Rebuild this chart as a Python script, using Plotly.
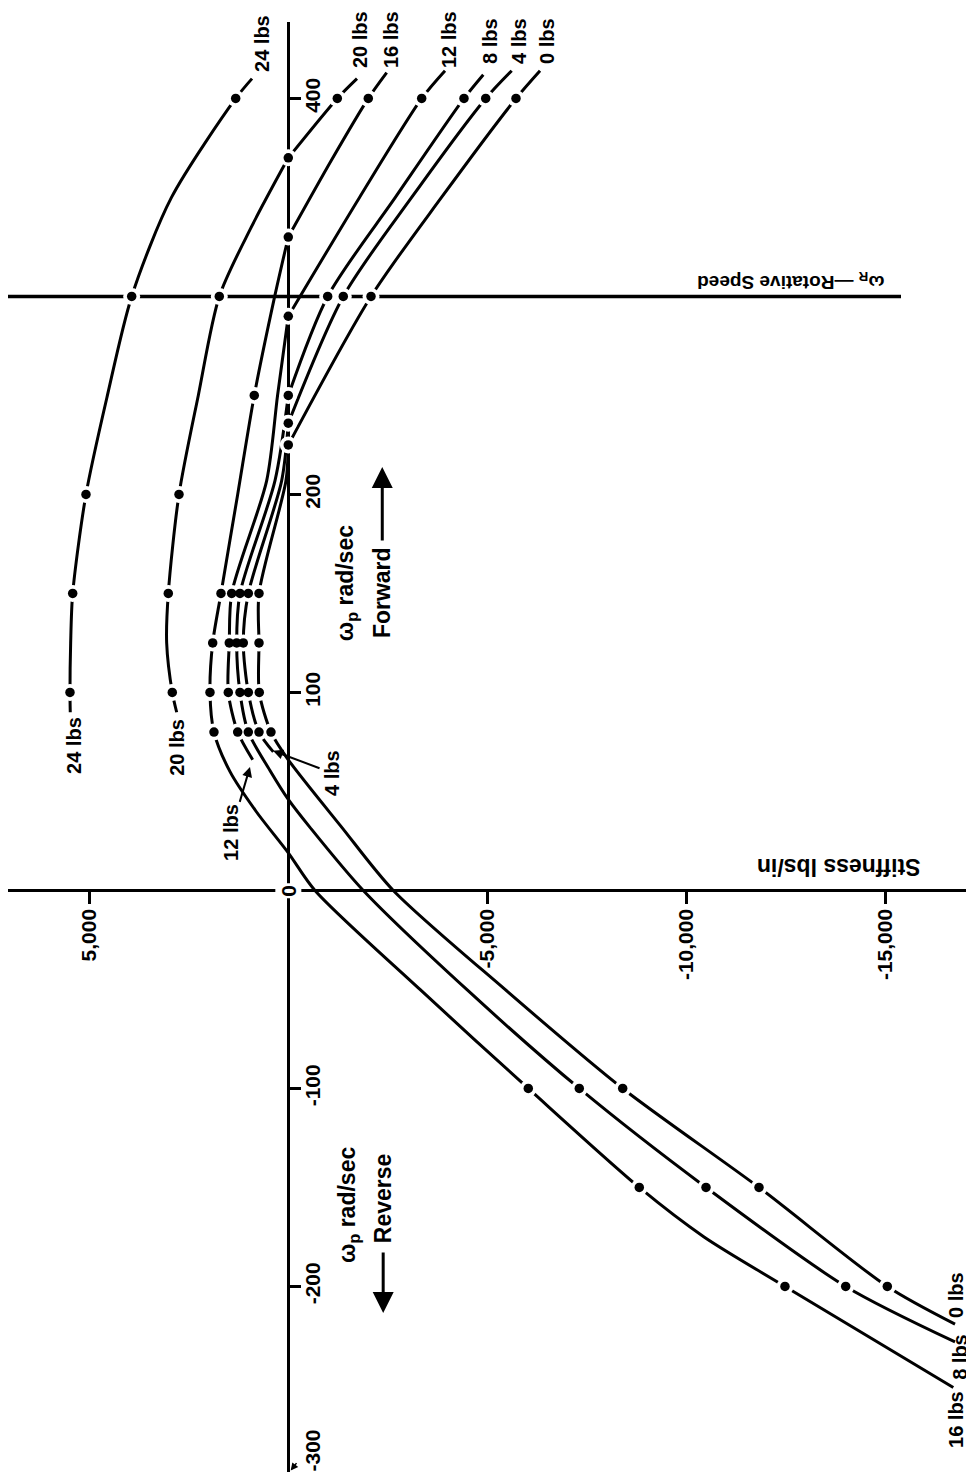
import plotly.graph_objects as go

# ---------------- data ----------------
# omega_p (rad/sec) and stiffness (lbs/in) along each weight curve, top to bottom
W24_OMEGA = [410, 400, 350, 300, 250, 200, 150, 125, 100, 90]
W24_STIFF = [912, 1322, 2936, 3936, 4547, 5085, 5419, 5470, 5487, 5480]
W24_DOT = [0, 1, 0, 1, 0, 1, 1, 0, 1, 0]

W20_OMEGA = [410, 400, 370, 335, 300, 250, 200, 150, 125, 100, 90]
W20_STIFF = [-1727, -1232, 0, 930, 1734, 2262, 2747, 3016, 3057, 2916, 2805]
W20_DOT = [0, 1, 1, 0, 1, 0, 1, 1, 0, 1, 0]

W16_OMEGA = [413, 400, 369, 330, 300, 250, 200, 150, 125, 100, 80, 60, 40, 19, 0,
             -50, -100, -150, -175, -200, -251]
W16_STIFF = [-2473, -2011, -1091, 0, 342, 855, 1272, 1692, 1900, 1968, 1868, 1465, 812, 0, -671,
             -3310, -6032, -8822, -10450, -12484, -16715]
W16_DOT = [0, 1, 0, 1, 0, 1, 0, 1, 1, 1, 1, 0, 0, 0, 0,
           0, 1, 1, 0, 1, 0]

W12_OMEGA = [414, 400, 350, 290, 250, 207, 150, 125, 100, 80, 66]
W12_STIFF = [-3939, -3353, -1790, 0, 270, 543, 1423, 1483, 1508, 1272, 895]
W12_DOT = [0, 1, 0, 1, 0, 0, 1, 1, 1, 1, 0]

W8_OMEGA = [412, 400, 350, 300, 250, 207, 150, 125, 100, 80, 60, 46, 32, 0,
            -50, -100, -150, -200, -228]
W8_STIFF = [-4901, -4416, -2690, -990, 0, 334, 1214, 1297, 1214, 1005, 442, 0, -540, -1885,
            -4484, -7314, -10499, -14010, -16758]
W8_DOT = [0, 1, 0, 1, 1, 0, 1, 1, 1, 1, 0, 0, 0, 0,
          0, 1, 1, 1, 0]

W4_OMEGA = [414, 400, 350, 300, 236, 207, 150, 125, 100, 80, 70]
W4_STIFF = [-5615, -4962, -3100, -1382, 0, 166, 1005, 1131, 1005, 736, 377]
W4_DOT = [0, 1, 0, 1, 1, 0, 1, 1, 1, 1, 0]

W0_OMEGA = [414, 400, 350, 300, 225, 207, 150, 125, 100, 80, 66, 32, 0,
            -50, -100, -150, -200, -219]
W0_STIFF = [-6327, -5723, -3850, -2079, 0, 58, 736, 736, 729, 435, 0, -1340, -2639,
            -5447, -8405, -11831, -15056, -16758]
W0_DOT = [0, 1, 0, 1, 1, 0, 1, 1, 1, 1, 0, 0, 0,
          0, 1, 1, 1, 0]

OMEGA_R = 300                      # rotative speed line
OMEGA_R_STIFF_SPAN = [7045, -15400]

STIFF_TICKS = [5000, -5000, -10000, -15000]
STIFF_TICK_TEXT = ["5,000", "-5,000", "-10,000", "-15,000"]
OMEGA_TICKS = [400, 200, 100, -100, -200]
OMEGA_TICK_TEXT = ["400", "200", "100", "-100", "-200"]

X_RANGE = [7045, -17059]   # stiffness, positive to the left
Y_RANGE = [-293.7, 438.6]  # omega_p

CURVES = [
    (W24_OMEGA, W24_STIFF, W24_DOT),
    (W20_OMEGA, W20_STIFF, W20_DOT),
    (W16_OMEGA, W16_STIFF, W16_DOT),
    (W12_OMEGA, W12_STIFF, W12_DOT),
    (W8_OMEGA, W8_STIFF, W8_DOT),
    (W4_OMEGA, W4_STIFF, W4_DOT),
    (W0_OMEGA, W0_STIFF, W0_DOT),
]

FONT = "Liberation Sans, Arial, Helvetica, sans-serif"

fig = go.Figure()

# rotative speed line
fig.add_trace(go.Scatter(
    x=OMEGA_R_STIFF_SPAN, y=[OMEGA_R, OMEGA_R], mode="lines",
    line=dict(color="black", width=3.5), hoverinfo="skip", showlegend=False))

dot_x, dot_y = [], []
for om, st, dots in CURVES:
    k = next((i for i, s in enumerate(st) if s == 0), None)
    segs = [(0, len(st))] if k is None else [(0, k + 1), (k, len(st))]
    for a, b in segs:
        fig.add_trace(go.Scatter(
            x=st[a:b], y=om[a:b], mode="lines",
            line=dict(color="black", width=3, shape="spline", smoothing=0.8),
            hoverinfo="skip", showlegend=False))
    for o, s, d in zip(om, st, dots):
        if d:
            dot_x.append(s)
            dot_y.append(o)

# white halo around dots (gaps in the lines), then the dots
fig.add_trace(go.Scatter(x=dot_x, y=dot_y, mode="markers",
                         marker=dict(color="white", size=17, line=dict(width=0)),
                         hoverinfo="skip", showlegend=False))
fig.add_trace(go.Scatter(x=dot_x, y=dot_y, mode="markers",
                         marker=dict(color="black", size=9.5, line=dict(width=0)),
                         hoverinfo="skip", showlegend=False))

pos_x_axis = (0 - Y_RANGE[0]) / (Y_RANGE[1] - Y_RANGE[0])
pos_y_axis = (X_RANGE[0] - 0) / (X_RANGE[0] - X_RANGE[1])

tickfont = dict(family=FONT, size=21, color="black", weight="bold")

# the page body adds an 8px offset; the figure is sized to fill the rest
fig.update_layout(
    width=966, height=1473,
    margin=dict(l=0, r=7, t=14, b=9),
    paper_bgcolor="white", plot_bgcolor="white",
    showlegend=False,
    xaxis=dict(range=X_RANGE, anchor="free", position=pos_x_axis, side="bottom",
               showline=True, linecolor="black", linewidth=3,
               ticks="outside", ticklen=12, tickwidth=3, tickcolor="black",
               tickvals=STIFF_TICKS, ticktext=STIFF_TICK_TEXT, tickangle=-90,
               ticklabelstandoff=-4,
               tickfont=tickfont, showgrid=False, zeroline=False,
               layer="below traces", automargin=False),
    yaxis=dict(range=Y_RANGE, anchor="free", position=pos_y_axis, side="right",
               showline=True, linecolor="black", linewidth=3,
               ticks="outside", ticklen=11, tickwidth=3, tickcolor="black",
               tickvals=OMEGA_TICKS, ticktext=OMEGA_TICK_TEXT, tickangle=-90,
               ticklabelstandoff=-7,
               tickfont=tickfont, showgrid=False, zeroline=False,
               layer="below traces", automargin=False),
)

lab = dict(family=FONT, size=20, color="black", weight="bold")
big = dict(family=FONT, size=23, color="black", weight="bold")

def note(x, y, text, angle=-90, font=lab, **kw):
    fig.add_annotation(x=x, y=y, text=text, textangle=angle, font=font,
                       showarrow=kw.pop("showarrow", False), xref="x", yref="y", **kw)

# curve labels (top)
note(661, 428, "24 lbs")
note(-1802, 430, "20 lbs")
note(-2581, 430, "16 lbs")
note(-4039, 430, "12 lbs")
note(-5070, 429, "8 lbs")
note(-5799, 429, "4 lbs")
note(-6503, 429, "0 lbs")
# curve labels (middle)
note(5385, 73, "24 lbs")
note(2798, 72.5, "20 lbs")
note(963, 62.4, "12 lbs", showarrow=True, ax=-19, ay=65,
     arrowhead=2, arrowsize=1, arrowwidth=2, arrowcolor="black")
note(383, 70.5, "4 lbs", showarrow=True, ax=59, ay=22,
     arrowhead=2, arrowsize=1, arrowwidth=2, arrowcolor="black")
# curve labels (bottom right)
note(-16784, -204.3, "0 lbs")
note(-16880, -235.6, "8 lbs")
note(-16784, -267.4, "16 lbs")

# axis titles
note(-1483, 155.3, "ω<sub>p</sub> rad/sec", font=big)
note(-2362, 150.3, "Forward", font=big)
note(-2362, 213.9, "", showarrow=True, ax=0, ay=75,
     arrowhead=2, arrowsize=1.4, arrowwidth=3, arrowcolor="black")
note(-1529, -158.8, "ω<sub>p</sub> rad/sec", font=big)
note(-2385, -155.3, "Reverse", font=big)
note(-2385, -213.4, "", showarrow=True, ax=0, ay=-62,
     arrowhead=2, arrowsize=1.4, arrowwidth=3, arrowcolor="black")
note(-13823, 11.9, "Stiffness lbs/in", angle=180, font=big)
note(-12640, 307.8, "ω<sub>R</sub> —Rotative Speed", angle=180,
     font=dict(family=FONT, size=19, color="black", weight="bold"))

# origin and end-of-axis labels
note(0, 0, "0", angle=-90, font=dict(family=FONT, size=21, color="black", weight="bold"),
     bgcolor="white")
note(-608, -282.6, "-300", font=dict(family=FONT, size=21, color="black", weight="bold"))
note(-60, -293, "", showarrow=True, ax=7, ay=-9,
     arrowhead=2, arrowsize=1, arrowwidth=1.5, arrowcolor="black")

fig.write_html("out.html")
